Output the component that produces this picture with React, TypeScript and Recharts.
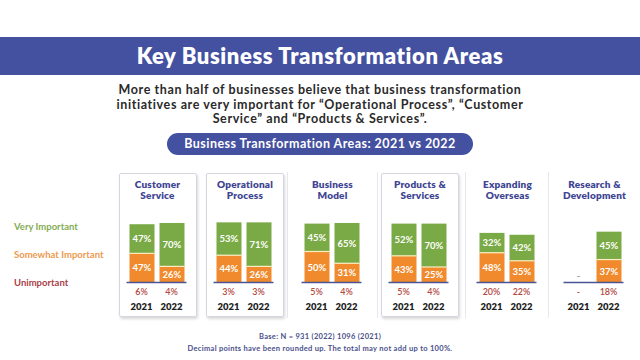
import { BarChart, Bar, XAxis, YAxis, LabelList } from "recharts";

// survey results, percent of respondents
const areaTitles = [
  ["Customer", "Service"],
  ["Operational", "Process"],
  ["Business", "Model"],
  ["Products &", "Services"],
  ["Expanding", "Overseas"],
  ["Research &", "Development"],
];
const years = ["2021", "2022"];
const veryImportant2021 = [47, 53, 45, 52, 32, null];
const veryImportant2022 = [70, 71, 65, 70, 42, 45];
const somewhat2021 = [47, 44, 50, 43, 48, null];
const somewhat2022 = [26, 26, 31, 25, 35, 37];
const unimportant2021 = [6, 3, 5, 5, 20, null];
const unimportant2022 = [4, 3, 4, 4, 22, 18];

const legendItems = [
  { label: "Very Important", color: "#84ad55" },
  { label: "Somewhat Important", color: "#ec9a4f" },
  { label: "Unimportant", color: "#a9414a" },
];

const GREEN = "#7aaa45";
const ORANGE = "#f08a2c";
const NAVY = "#3e4592";
const FONT = "Lato, 'Noto Sans', sans-serif";

// panel layout
const PANEL_W = 78;
const PANEL_H = 144;
const PANEL_TOP = 173;
const panelLefts = [118.5, 206, 293.5, 381, 468.5, 555.5];
const boxed = [true, true, false, true, false, false];
const dividers = [287, 377, 465, 548];

const pct = (v: number | null) => (v == null ? "" : `${v}%`);

// green segment with a pale seam along its bottom edge
const GreenShape = (props: any) => {
  const { x, y, width, height, fill } = props;
  if (!height || height <= 0) return null;
  return (
    <g>
      <rect x={x} y={y} width={width} height={height} fill={fill} />
      <line x1={x} x2={x + width} y1={y + height} y2={y + height} stroke="#fbeec4" strokeWidth={1.2} />
    </g>
  );
};

const BarLabel = (props: any) => {
  const { x, y, width, height, value } = props;
  if (value == null || !height) return null;
  return (
    <text
      x={x + width / 2}
      y={y + height / 2}
      dy={3.5}
      textAnchor="middle"
      fill="#fff"
      fontSize={9.5}
      fontWeight={700}
      fontFamily={FONT}
    >
      {pct(value)}
    </text>
  );
};

function Panel({ index }: { index: number }) {
  const data = years.map((year, i) => ({
    year,
    very: i === 0 ? veryImportant2021[index] : veryImportant2022[index],
    somewhat: i === 0 ? somewhat2021[index] : somewhat2022[index],
    unimportant: i === 0 ? unimportant2021[index] : unimportant2022[index],
  }));

  const YearTick = ({ x, y, payload, index: ti }: any) => {
    const row = data[ti];
    const missing = row.very == null && row.somewhat == null;
    return (
      <g fontFamily={FONT}>
        {missing && (
          <text x={x} y={y - 6} textAnchor="middle" fill="#9a9a9a" fontSize={9} fontWeight={700}>
            -
          </text>
        )}
        <text x={x} y={y + 10} textAnchor="middle" fill="#b4493f" fontSize={9} fontWeight={600}>
          {row.unimportant == null ? "-" : `${row.unimportant}%`}
        </text>
        <text x={x} y={y + 25} textAnchor="middle" fill="#1f1f1f" fontSize={9.5} fontWeight={800}>
          {payload.value}
        </text>
      </g>
    );
  };

  return (
    <div style={{ position: "absolute", left: panelLefts[index], top: PANEL_TOP, width: PANEL_W, height: PANEL_H }}>
      {boxed[index] && (
        <div
          style={{
            position: "absolute",
            inset: 0,
            border: "1px solid #d4d7e2",
            borderRadius: 2,
            boxShadow: "1px 2px 3px rgba(0,0,0,0.16)",
          }}
        />
      )}
      <div
        style={{
          position: "absolute",
          top: 6,
          left: -4,
          width: PANEL_W + 8,
          textAlign: "center",
          color: NAVY,
          fontWeight: 800,
          fontSize: 10,
          letterSpacing: 0.2,
          lineHeight: "10.5px",
          fontFamily: FONT,
        }}
      >
        {areaTitles[index][0]}
        <br />
        {areaTitles[index][1]}
      </div>
      <BarChart
        width={PANEL_W}
        height={PANEL_H}
        data={data}
        margin={{ top: 47.5, right: 10.5, bottom: 0, left: 7.5 }}
        barSize={25}
        style={{ position: "absolute", left: 0, top: 0 }}
      >
        <YAxis hide domain={[0, 100]} />
        <XAxis
          dataKey="year"
          height={34.5}
          interval={0}
          tickLine={false}
          tickSize={0}
          axisLine={{ stroke: "#4a5597", strokeWidth: 1.5 }}
          tick={<YearTick />}
        />
        <Bar dataKey="somewhat" stackId="a" fill={ORANGE} isAnimationActive={false}>
          <LabelList dataKey="somewhat" content={<BarLabel />} />
        </Bar>
        <Bar dataKey="very" stackId="a" fill={GREEN} shape={<GreenShape />} isAnimationActive={false}>
          <LabelList dataKey="very" content={<BarLabel />} />
        </Bar>
      </BarChart>
    </div>
  );
}

export default function App() {
  return (
    <div
      style={{
        position: "relative",
        width: 640,
        height: 360,
        background: "#fff",
        overflow: "hidden",
        fontFamily: FONT,
      }}
    >
      <style>{"body{margin:0}"}</style>

      {/* title band */}
      <div
        style={{
          position: "absolute",
          left: 0,
          top: 37,
          width: 640,
          height: 38,
          background: "#4450a0",
          color: "#fff",
          fontWeight: 800,
          fontSize: 22,
          letterSpacing: 0.6,
          lineHeight: "38px",
          textAlign: "center",
        }}
      >
        Key Business Transformation Areas
      </div>

      <div
        style={{
          position: "absolute",
          left: 0,
          top: 83,
          width: 640,
          textAlign: "center",
          color: "#2a2a2a",
          fontWeight: 700,
          fontSize: 12.5,
          letterSpacing: 0.6,
          lineHeight: "14.5px",
        }}
      >
        More than half of businesses believe that business transformation
        <br />
        initiatives are very important for “Operational Process”, “Customer
        <br />
        Service” and “Products &amp; Services”.
      </div>

      <div
        style={{
          position: "absolute",
          left: 167,
          top: 133,
          width: 306,
          height: 22,
          borderRadius: 11,
          background: "#4450a0",
          color: "#fff",
          fontWeight: 700,
          fontSize: 12.5,
          letterSpacing: 0.45,
          lineHeight: "22px",
          textAlign: "center",
        }}
      >
        Business Transformation Areas: 2021 vs 2022
      </div>

      {/* row legend */}
      {legendItems.map((item, i) => (
        <div
          key={item.label}
          style={{
            position: "absolute",
            left: 14,
            top: 221 + i * 28,
            color: item.color,
            fontWeight: 700,
            fontSize: 9.5,
            lineHeight: "12px",
            whiteSpace: "nowrap",
          }}
        >
          {item.label}
        </div>
      ))}

      {dividers.map((x) => (
        <div
          key={x}
          style={{ position: "absolute", left: x, top: 172, width: 1, height: 146, background: "#e6e8ef" }}
        />
      ))}

      {areaTitles.map((_, i) => (
        <Panel key={i} index={i} />
      ))}

      <div
        style={{
          position: "absolute",
          left: 0,
          top: 331,
          width: 640,
          textAlign: "center",
          color: "#4a4f8a",
          fontWeight: 700,
          fontSize: 7.5,
          letterSpacing: 0.3,
          lineHeight: "11.5px",
        }}
      >
        Base: N = 931 (2022) 1096 (2021)
        <br />
        Decimal points have been rounded up. The total may not add up to 100%.
      </div>
    </div>
  );
}
